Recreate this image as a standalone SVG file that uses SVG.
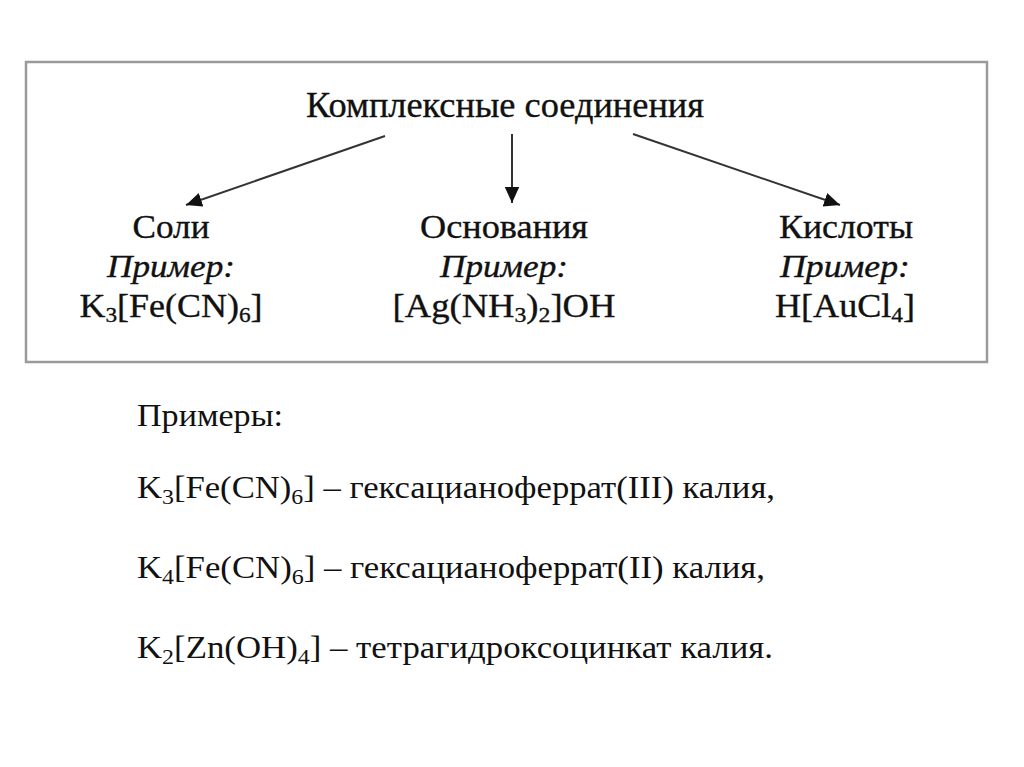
<svg xmlns="http://www.w3.org/2000/svg" width="1024" height="767" viewBox="0 0 1024 767">
<defs>
<style>
text{font-family:"Liberation Serif","Times New Roman",serif;fill:#111}
.t{font-size:34px;text-anchor:middle;stroke:#111;stroke-width:0.35}
.h{font-size:35px}
.i{font-size:32px;font-style:italic}
.b{font-size:32px}
.s{font-size:22px}
.conn line{stroke:#333;stroke-width:2}
</style>
<marker id="a" viewBox="0 0 10 10" refX="10" refY="5" markerWidth="16" markerHeight="16" orient="auto" markerUnits="userSpaceOnUse">
<path d="M0,0.5L10,5L0,9.5z" fill="#111"/>
</marker>
</defs>
<rect width="1024" height="767" fill="#fff"/>
<rect id="frame" x="26" y="62" width="961" height="300" fill="#fff" stroke="#9a9a9a" stroke-width="2.5"/>
<g id="root"><text class="t h" x="505" y="117" textLength="398" lengthAdjust="spacingAndGlyphs">Комплексные соединения</text></g>
<g class="conn">
<line x1="385" y1="136" x2="186" y2="205" marker-end="url(#a)"/>
<line x1="512" y1="134" x2="512" y2="203" marker-end="url(#a)"/>
<line x1="633" y1="134" x2="840" y2="205" marker-end="url(#a)"/>
</g>
<g id="soli">
<text class="t" x="171" y="238" textLength="77" lengthAdjust="spacingAndGlyphs">Соли</text>
<text class="t i" x="171" y="277" textLength="128" lengthAdjust="spacingAndGlyphs">Пример:</text>
<text class="t" x="171" y="317" textLength="183" lengthAdjust="spacingAndGlyphs">K<tspan class="s" dy="5">3</tspan><tspan dy="-5">[Fe(CN)</tspan><tspan class="s" dy="5">6</tspan><tspan dy="-5">]</tspan></text>
</g>
<g id="osnovaniya">
<text class="t" x="504" y="238" textLength="168" lengthAdjust="spacingAndGlyphs">Основания</text>
<text class="t i" x="504" y="277" textLength="128" lengthAdjust="spacingAndGlyphs">Пример:</text>
<text class="t" x="504" y="317" textLength="223" lengthAdjust="spacingAndGlyphs">[Ag(NH<tspan class="s" dy="5">3</tspan><tspan dy="-5">)</tspan><tspan class="s" dy="5">2</tspan><tspan dy="-5">]OH</tspan></text>
</g>
<g id="kisloty">
<text class="t" x="846" y="238" textLength="134" lengthAdjust="spacingAndGlyphs">Кислоты</text>
<text class="t i" x="845" y="277" textLength="130" lengthAdjust="spacingAndGlyphs">Пример:</text>
<text class="t" x="845" y="317" textLength="140" lengthAdjust="spacingAndGlyphs">H[AuCl<tspan class="s" dy="5">4</tspan><tspan dy="-5">]</tspan></text>
</g>
<g id="examples">
<text class="b" x="137" y="426" textLength="146" lengthAdjust="spacingAndGlyphs">Примеры:</text>
<text class="b" x="137" y="498" textLength="638" lengthAdjust="spacingAndGlyphs">K<tspan class="s" dy="6">3</tspan><tspan dy="-6">[Fe(CN)</tspan><tspan class="s" dy="6">6</tspan><tspan dy="-6">] – гексацианоферрат(III) калия,</tspan></text>
<text class="b" x="137" y="578" textLength="628" lengthAdjust="spacingAndGlyphs">K<tspan class="s" dy="6">4</tspan><tspan dy="-6">[Fe(CN)</tspan><tspan class="s" dy="6">6</tspan><tspan dy="-6">] – гексацианоферрат(II) калия,</tspan></text>
<text class="b" x="137" y="658" textLength="636" lengthAdjust="spacingAndGlyphs">K<tspan class="s" dy="6">2</tspan><tspan dy="-6">[Zn(OH)</tspan><tspan class="s" dy="6">4</tspan><tspan dy="-6">] – тетрагидроксоцинкат калия.</tspan></text>
</g>
</svg>
